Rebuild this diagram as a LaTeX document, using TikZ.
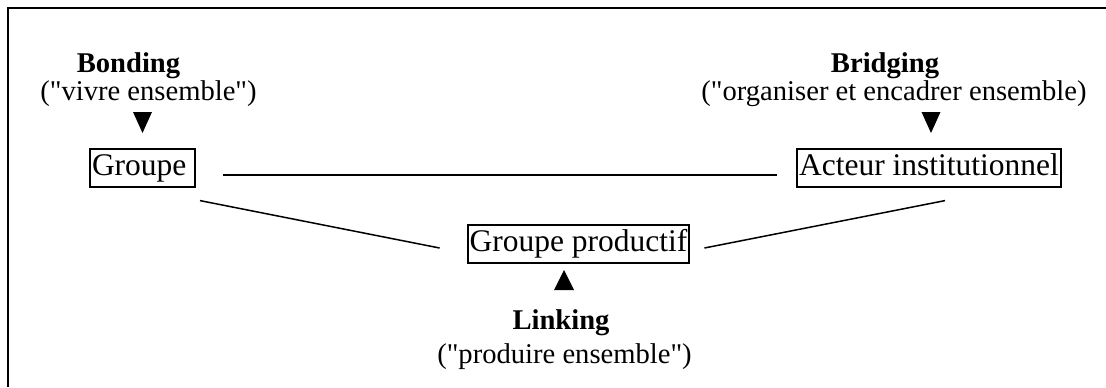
\documentclass[tikz,border=0pt]{standalone}
\usepackage{fontspec}
\setmainfont{Liberation Serif}
\usetikzlibrary{positioning,calc}

\newcommand{\dq}{\textquotedbl{}}

\tikzset{
	box/.style={draw, line width=1pt, inner xsep=1pt, inner ysep=2pt, text height=11pt, text depth=3.6pt, font=\fontsize{15.75}{18}\selectfont},
	title/.style={anchor=base, font=\fontsize{14.3}{17}\selectfont\bfseries},
	gloss/.style={anchor=base, font=\fontsize{14.3}{17}\selectfont},
	link/.style={line width=0.75pt}
}

\begin{document}
\begin{tikzpicture}[x=0.5pt, y=-0.5pt]
	
	\useasboundingbox (0,0) rectangle (1106,387);
	
	\draw[line width=1pt] (7.5,387) |- (1106,7.5);
	
	\node[box, text width=50.5pt, align=left] (grp) at (142.5,168) {Groupe};
	\node[box] (act) at (929,168) {Acteur institutionnel};
	\node[box] (prod) at (578.5,244) {Groupe productif};
	
	\draw[link] ([shift={(27,7)}]grp.east) -- ([shift={(-19,7)}]act.west);
	\draw[link] ([shift={(4,13)}]grp.south east) -- ([shift={(-27,4)}]prod.west);
	\draw[link] ([shift={(14,4)}]prod.east) -- ([shift={(16,13)}]act.south);
	
	\node[title] (bond) at (128.5,72) {Bonding};
	\node[gloss] (bondtxt) at (148.5,100) {(\dq vivre ensemble\dq)};
	\node[title] (bridge) at (885,72) {Bridging};
	\node[gloss] (bridgetxt) at (894,100) {(\dq organiser et encadrer ensemble)};
	\node[title] (link) at (561,329) {Linking};
	\node[gloss] (linktxt) at (564.5,363) {(\dq produire ensemble\dq)};
	
	\fill (133,112) -- (152,112) -- (142.5,133) -- cycle;
	\fill (921.5,112) -- (940.5,112) -- (931,133) -- cycle;
	\fill (554,290) -- (574,290) -- (564,270) -- cycle;
	
\end{tikzpicture}
\end{document}
